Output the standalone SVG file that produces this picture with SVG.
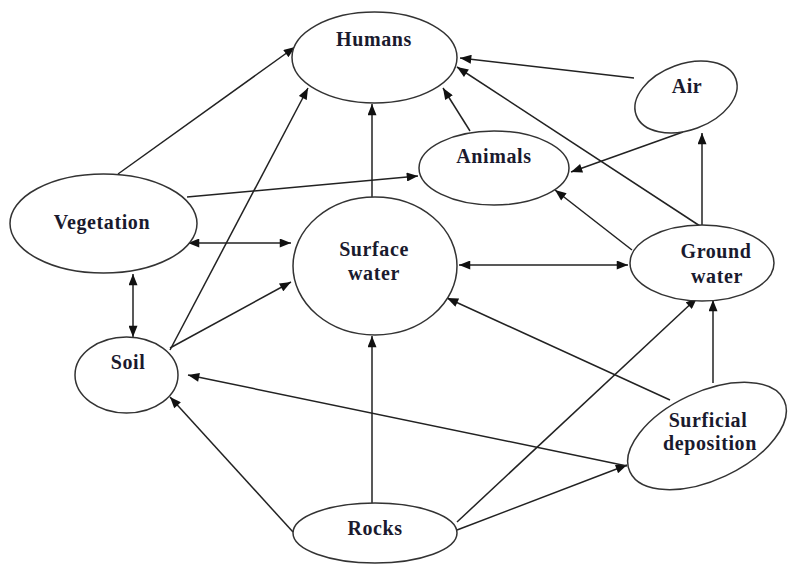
<svg xmlns="http://www.w3.org/2000/svg" width="793" height="565" viewBox="0 0 793 565">
<style>
.n{fill:#fff;stroke:#333;stroke-width:1.5}
.t{font-family:"Liberation Serif","Times New Roman",serif;font-size:20px;font-weight:bold;fill:#1a1a2e;text-anchor:middle;letter-spacing:0.6px}
.c line{stroke:#222;stroke-width:1.5}
</style>
<defs>
<marker id="a" viewBox="0 0 10 8" refX="10" refY="4" markerWidth="12" markerHeight="9" markerUnits="userSpaceOnUse" orient="auto-start-reverse">
<path d="M0,0 L10,4 L0,8 Z" fill="#111"/>
</marker>
</defs>
<rect width="793" height="565" fill="#fff"/>
<g id="connectors" class="c">
<line x1="118" y1="174" x2="295" y2="47" marker-end="url(#a)"/>
<line x1="170" y1="350" x2="308" y2="88" marker-end="url(#a)"/>
<line x1="372" y1="205" x2="372" y2="104" marker-end="url(#a)"/>
<line x1="470" y1="131" x2="443" y2="88" marker-end="url(#a)"/>
<line x1="634" y1="78" x2="460" y2="58" marker-end="url(#a)"/>
<line x1="700" y1="226" x2="457" y2="67" marker-end="url(#a)"/>
<line x1="702" y1="226" x2="702" y2="133" marker-end="url(#a)"/>
<line x1="683" y1="132" x2="571" y2="172" marker-end="url(#a)"/>
<line x1="632" y1="250" x2="555" y2="190" marker-end="url(#a)"/>
<line x1="187" y1="197" x2="418" y2="176" marker-end="url(#a)"/>
<line x1="188" y1="243" x2="291" y2="243" marker-start="url(#a)" marker-end="url(#a)"/>
<line x1="133" y1="274" x2="133" y2="337" marker-start="url(#a)" marker-end="url(#a)"/>
<line x1="170" y1="348" x2="291" y2="282" marker-end="url(#a)"/>
<line x1="459" y1="265" x2="628" y2="265" marker-start="url(#a)" marker-end="url(#a)"/>
<line x1="372" y1="503" x2="372" y2="336" marker-end="url(#a)"/>
<line x1="293" y1="532" x2="170" y2="397" marker-end="url(#a)"/>
<line x1="457" y1="522" x2="697" y2="298" marker-end="url(#a)"/>
<line x1="457" y1="530" x2="627" y2="465" marker-end="url(#a)"/>
<line x1="670" y1="400" x2="447" y2="298" marker-end="url(#a)"/>
<line x1="627" y1="466" x2="188" y2="375" marker-end="url(#a)"/>
<line x1="713" y1="383" x2="713" y2="300" marker-end="url(#a)"/>
</g>
<g id="humans"><ellipse class="n" cx="374.5" cy="57.5" rx="82.5" ry="45.5"/><text class="t" x="374" y="46">Humans</text></g>
<g id="air"><ellipse class="n" cx="686" cy="97" rx="53" ry="33" transform="rotate(-20 686 97)"/><text class="t" x="687" y="93">Air</text></g>
<g id="animals"><ellipse class="n" cx="494" cy="168" rx="75" ry="37"/><text class="t" x="494" y="163">Animals</text></g>
<g id="vegetation"><ellipse class="n" cx="103.5" cy="223.5" rx="93.5" ry="49.5"/><text class="t" x="102" y="229">Vegetation</text></g>
<g id="surface-water"><ellipse class="n" cx="375" cy="266" rx="82" ry="69"/><text class="t" x="374" y="256">Surface</text><text class="t" x="374" y="280">water</text></g>
<g id="ground-water"><ellipse class="n" cx="702" cy="263" rx="72" ry="38"/><text class="t" x="716" y="258">Ground</text><text class="t" x="717" y="283">water</text></g>
<g id="soil"><ellipse class="n" cx="126.5" cy="375" rx="51.5" ry="38"/><text class="t" x="128" y="369">Soil</text></g>
<g id="surficial-deposition"><ellipse class="n" cx="707" cy="436" rx="85" ry="44" transform="rotate(-25 707 436)"/><text class="t" x="708" y="427">Surficial</text><text class="t" x="710" y="450">deposition</text></g>
<g id="rocks"><ellipse class="n" cx="375" cy="533" rx="82" ry="30"/><text class="t" x="375" y="535">Rocks</text></g>
</svg>
